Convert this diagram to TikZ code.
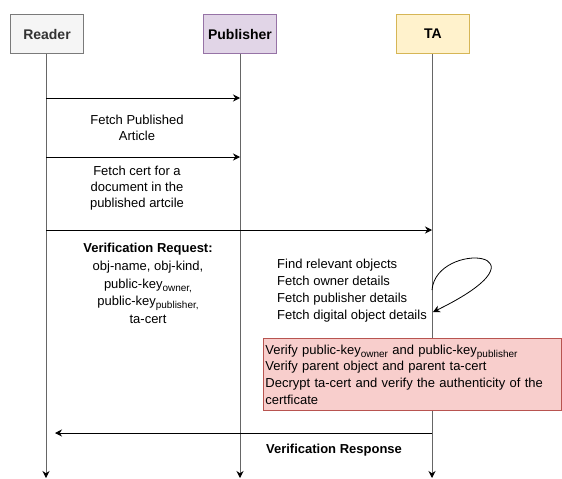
\documentclass[tikz,border=0pt]{standalone}
\usepackage{fontspec}
\setmainfont{Liberation Sans}
\usetikzlibrary{arrows.meta}
\definecolor{readerfill}{HTML}{F5F5F5}
\definecolor{readerdraw}{HTML}{7A7A7A}
\definecolor{readertext}{HTML}{333333}
\definecolor{pubfill}{HTML}{E1D5E7}
\definecolor{pubdraw}{HTML}{9673A6}
\definecolor{tafill}{HTML}{FFF2CC}
\definecolor{tadraw}{HTML}{D6B656}
\definecolor{redfill}{HTML}{F8CECC}
\definecolor{reddraw}{HTML}{B85450}
\definecolor{lifegray}{HTML}{666666}
\newcommand{\mysub}[1]{\raisebox{-0.45ex}{\fontsize{10}{10}\selectfont #1}}
\begin{document}
\begin{tikzpicture}[x=1pt,y=-1pt,
  hdr/.style={draw, line width=1.6pt, minimum width=73pt, minimum height=39pt, inner sep=0pt,
              font=\fontsize{14}{16}\selectfont\bfseries},
  life/.style={draw=lifegray, line width=1pt, -{Stealth[length=7pt,width=7pt,color=black]}},
  msg/.style={draw=black, line width=0.8pt, -{Stealth[length=7pt,width=7pt]}},
  lbl/.style={font=\fontsize{13}{16}\selectfont, align=center, inner sep=0pt},
  redbox/.style={draw=reddraw, fill=redfill, line width=0.8pt, anchor=north west,
                 minimum width=298pt, minimum height=72pt, text width=294pt, inner sep=2pt,
                 align=left, font=\fontsize{13}{16.7}\selectfont}
]
\useasboundingbox (0,0) rectangle (562,479);

% header boxes
\node[hdr, fill=readerfill, draw=readerdraw, text=readertext] (reader) at (47,34) {Reader};
\node[hdr, fill=pubfill, draw=pubdraw] (pub) at (240,34) {Publisher};
\node[hdr, fill=tafill, draw=tadraw] (ta) at (433,34) {TA};

% lifeline ends
\coordinate (rEnd) at (46,478);
\coordinate (pEnd) at (240,478);
\coordinate (tEnd) at (432,478);
\draw[life] (reader.south -| rEnd) -- (rEnd);
\draw[life] (pub.south -| pEnd) -- (pEnd);
\draw[life] (ta.south -| tEnd) -- (tEnd);

% message points
\coordinate (r1) at (46,98);  \coordinate (p1) at (240,98);
\coordinate (r2) at (46,157); \coordinate (p2) at (240,157);
\coordinate (r3) at (46,230); \coordinate (t3) at (432,230);
\coordinate (t4) at (432,433); \coordinate (r4) at (55,433);
\coordinate (ls) at (432,290); \coordinate (le) at (433,312);

\draw[msg] (r1) -- (p1);
\draw[msg] (r2) -- (p2);
\draw[msg] (r3) -- (t3);
\draw[msg] (t4) -- (r4);
\draw[msg] (ls) .. controls (436,240) and (560,250) .. (le);

% labels
\node[lbl] (l1) at (137,127.5) {Fetch Published\\Article};
\node[lbl] (l2) at (137,188.5) {Fetch cert for a\\document in the\\published artcile};
\node[lbl, font=\fontsize{13}{17.7}\selectfont] (l3) at (148,283.5)
  {\textbf{Verification Request:}\\obj-name, obj-kind,\\public-key\mysub{owner,}\\public-key\mysub{publisher,}\\ta-cert};
\node[lbl, align=left, anchor=west, font=\fontsize{13}{17}\selectfont] (l4) at (277,290.5)
  {Find relevant objects\\Fetch owner details\\Fetch publisher details\\Fetch digital object details};
\node[redbox] (verify) at (263,338)
  {Verify public-key\mysub{owner} and public-key\mysub{publisher}\\Verify parent object and parent ta-cert\\Decrypt ta-cert and verify the authenticity of the\\certficate};
\node[lbl, font=\fontsize{13}{15}\selectfont\bfseries] (l5) at (334,450) {Verification Response};
\end{tikzpicture}
\end{document}
